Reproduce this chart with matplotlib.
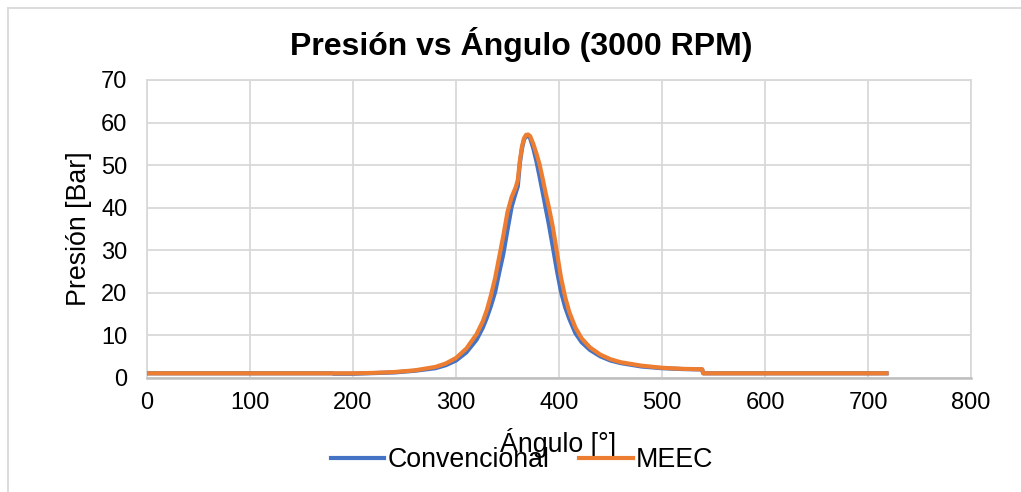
import matplotlib
matplotlib.use("Agg")
import matplotlib.pyplot as plt
from matplotlib.lines import Line2D

plt.rcParams['font.family'] = ['Liberation Sans', 'DejaVu Sans']

angles = [0, 180, 181, 200, 220, 240, 260, 280, 290, 300, 310, 320, 326, 330,
          334, 338, 342, 346, 350, 354, 358, 360, 362, 364, 366, 368, 370, 372,
          375, 378, 381, 384, 387, 390, 394, 398, 402, 406, 410, 416, 422, 430,
          440, 450, 460, 480, 500, 520, 539, 540, 720]

convencional = [1.1, 1.1, 1.0, 1.0, 1.15, 1.3, 1.7, 2.3, 3.0, 4.1, 6.0, 9.0, 11.8, 14.2,
                17.0, 20.2, 24.8, 29.2, 34.8, 40.2, 43.5, 45.0, 50.5, 53.8, 56.0, 56.8, 56.9, 56.3,
                54.0, 51.0, 47.5, 43.8, 40.0, 36.3, 30.8, 25.2, 20.2, 16.6, 13.9, 10.5, 8.4, 6.6,
                5.1, 4.1, 3.5, 2.7, 2.3, 2.1, 2.0, 1.1, 1.1]

meec = [1.1, 1.1, 1.1, 1.1, 1.2, 1.4, 1.8, 2.6, 3.4, 4.7, 6.9, 10.3, 13.3, 16.0,
        19.5, 23.5, 28.5, 33.5, 39.0, 42.5, 44.8, 46.5, 51.0, 54.3, 56.3, 57.1, 57.2, 56.8,
        55.0, 52.8, 50.3, 47.0, 43.5, 40.3, 35.5, 29.5, 23.5, 19.0, 15.5, 11.8, 9.3, 7.2,
        5.5, 4.4, 3.7, 2.9, 2.4, 2.15, 2.05, 1.1, 1.1]

series_names = ["Convencional", "MEEC"]
colors = ["#4472C4", "#ED7D31"]
title = "Presión vs Ángulo (3000 RPM)"
xlabel = "Ángulo [°]"
ylabel = "Presión [Bar]"
xticks = [0, 100, 200, 300, 400, 500, 600, 700, 800]
yticks = [0, 10, 20, 30, 40, 50, 60, 70]

W, H = 1021, 492
fig = plt.figure(figsize=(W / 100, H / 100), dpi=100)
ax = fig.add_axes([147 / W, 1 - 378 / H, (971 - 147) / W, (378 - 80) / H])

ax.plot(angles, convencional, color=colors[0], lw=3.0, solid_capstyle='butt', zorder=3)
ax.plot(angles, meec, color=colors[1], lw=3.0, solid_capstyle='butt', zorder=4)

ax.set_xlim(0, 800)
ax.set_ylim(0, 70)
ax.set_xticks(xticks)
ax.set_yticks(yticks)
ax.tick_params(axis='both', length=0, labelsize=17, colors='black')
ax.tick_params(axis='x', pad=10)
ax.tick_params(axis='y', pad=14)
ax.grid(True, color='#d9d9d9', lw=1.3, zorder=0)
ax.set_axisbelow(True)
for s in ['left', 'right', 'top']:
    ax.spines[s].set_color('#d9d9d9')
    ax.spines[s].set_linewidth(1.3)
ax.spines['bottom'].set_color('#bfbfbf')
ax.spines['bottom'].set_linewidth(1.8)

fig.text(521 / W, 1 - 45 / H, title, ha='center', va='center', fontsize=23, fontweight='bold')
fig.text(79 / W, 1 - 229 / H, ylabel, ha='center', va='center', rotation=90, fontsize=19.3)
fig.text(558 / W, 1 - 443 / H, xlabel, ha='center', va='center', fontsize=19.3)

handles = [Line2D([], [], color=c, lw=3.0) for c in colors]
fig.legend(handles, series_names, loc='center', bbox_to_anchor=(522 / W, 1 - 460 / H),
           ncol=2, frameon=False, fontsize=19.3, handlelength=2.0, handletextpad=0.12,
           columnspacing=1.1, borderpad=0, borderaxespad=0)

# outer chart border
fig.add_artist(Line2D([8 / W, 8 / W], [0, 1 - 8 / H], color='#d9d9d9', lw=1.3, transform=fig.transFigure))
fig.add_artist(Line2D([8 / W, 1], [1 - 8 / H, 1 - 8 / H], color='#d9d9d9', lw=1.3, transform=fig.transFigure))

fig.savefig("out.png", dpi=100)
